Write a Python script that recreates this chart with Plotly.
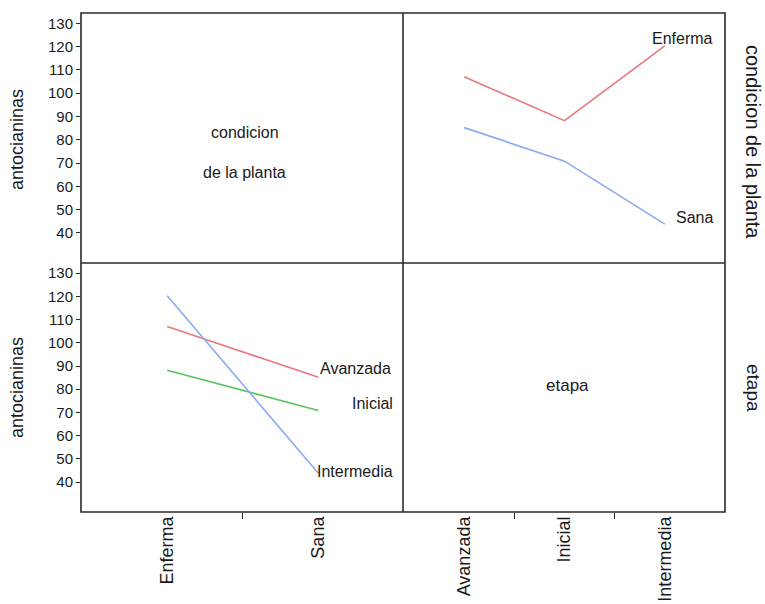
import plotly.graph_objects as go
from plotly.subplots import make_subplots

# Mean anthocyanin content by plant condition and stage
condicion = ["Enferma", "Sana"]
etapa = ["Avanzada", "Inicial", "Intermedia"]
medias = {
    "Enferma": [107.0, 88.2, 120.3],
    "Sana": [85.2, 70.8, 43.8],
}
y_ticks = [40, 50, 60, 70, 80, 90, 100, 110, 120, 130]

W, H = 765, 604
FONT = "Liberation Sans, Arial, sans-serif"
INK = "#1a1a1a"
EDGE = "#2a2a2a"
cond_color = {"Enferma": "#e8767e", "Sana": "#8ea8f2"}
etapa_color = {"Avanzada": "#e8767e", "Inicial": "#5cc25c", "Intermedia": "#8ea8f2"}

fig = make_subplots(rows=2, cols=2, horizontal_spacing=0, vertical_spacing=0)

# diagonal cells only carry a caption; empty traces keep their axes alive
for r, c in ((1, 1), (2, 2)):
    fig.add_trace(go.Scatter(x=[None], y=[None], mode="lines", showlegend=False,
                             hoverinfo="skip"), row=r, col=c)

# top-right: x = etapa, one line per condicion
for c in condicion:
    fig.add_trace(go.Scatter(x=list(range(len(etapa))), y=medias[c], mode="lines",
                             line=dict(color=cond_color[c], width=1.6),
                             showlegend=False, hoverinfo="skip"), row=1, col=2)

# bottom-left: x = condicion, one line per etapa
for j, e in enumerate(etapa):
    vals = [medias[c][j] for c in condicion]
    fig.add_trace(go.Scatter(x=list(range(len(condicion))), y=vals, mode="lines",
                             line=dict(color=etapa_color[e], width=1.6),
                             showlegend=False, hoverinfo="skip"), row=2, col=1)

px = lambda v: v / W
py = lambda v: 1 - v / H

L, M, R = 81, 403, 725      # column edges (px)
T, MID, B = 13, 263, 512    # row edges (px)
xl = [px(L), px(M)]
xr = [px(M), px(R)]
yt = [py(MID), py(T)]
yb = [py(B), py(MID)]
yrange = [27.1, 134.4]

bare = dict(showline=False, showgrid=False, zeroline=False)

# x axes: 1 top-left, 2 top-right, 3 bottom-left, 4 bottom-right
fig.update_layout(
    xaxis=dict(domain=xl, range=[-0.57, 1.56], showticklabels=False, ticks="", **bare),
    xaxis2=dict(domain=xr, range=[-0.61, 2.6], showticklabels=False, ticks="", **bare),
    xaxis3=dict(domain=xl, range=[-0.57, 1.56], tickmode="array",
                tickvals=list(range(len(condicion))), ticktext=condicion,
                ticks="", tickangle=-90,
                tickfont=dict(family=FONT, size=18, color=INK),
                minor=dict(tickmode="array", tickvals=[0.5], ticks="outside",
                           ticklen=6, tickwidth=1.3, tickcolor=EDGE),
                **bare),
    xaxis4=dict(domain=xr, range=[-0.61, 2.6], tickmode="array",
                tickvals=list(range(len(etapa))), ticktext=etapa,
                ticks="", tickangle=-90,
                tickfont=dict(family=FONT, size=18, color=INK),
                minor=dict(tickmode="array", tickvals=[0.5, 1.5], ticks="outside",
                           ticklen=6, tickwidth=1.3, tickcolor=EDGE),
                **bare),
    yaxis=dict(domain=yt, range=yrange, tickmode="array", tickvals=y_ticks,
               ticks="outside", ticklen=4, tickwidth=1.3, tickcolor=EDGE,
               tickfont=dict(family=FONT, size=15, color=INK), **bare),
    yaxis2=dict(domain=yt, range=yrange, showticklabels=False, ticks="", **bare),
    yaxis3=dict(domain=yb, range=yrange, tickmode="array", tickvals=y_ticks,
                ticks="outside", ticklen=4, tickwidth=1.3, tickcolor=EDGE,
                tickfont=dict(family=FONT, size=15, color=INK), **bare),
    yaxis4=dict(domain=yb, range=yrange, showticklabels=False, ticks="", **bare),
)

# matrix frame: outer box plus the two dividers
edge = dict(color=EDGE, width=1.6)
shapes = [
    dict(type="rect", xref="paper", yref="paper", x0=px(L), x1=px(R),
         y0=py(B), y1=py(T), line=edge, layer="above"),
    dict(type="line", xref="paper", yref="paper", x0=px(M), x1=px(M),
         y0=py(B), y1=py(T), line=edge, layer="above"),
    dict(type="line", xref="paper", yref="paper", x0=px(L), x1=px(R),
         y0=py(MID), y1=py(MID), line=edge, layer="above"),
]

ann = []
txt = dict(family=FONT, size=16, color=INK)

# end-of-line labels
for c, (dx, dy) in zip(condicion, [(50, 7), (50, 7)]):
    ann.append(dict(x=len(etapa) - 1, y=medias[c][-1], xref="x2", yref="y2",
                    text=c, showarrow=False, xanchor="right", yanchor="middle",
                    xshift=dx, yshift=dy, font=txt))
for j, (e, (dx, dy)) in enumerate(zip(etapa, [(75, 9), (77, 7), (77, 2)])):
    ann.append(dict(x=len(condicion) - 1, y=medias[condicion[-1]][j], xref="x3", yref="y3",
                    text=e, showarrow=False, xanchor="right", yanchor="middle",
                    xshift=dx, yshift=dy, font=txt))


def caption(x, y, text, size, angle=0):
    ann.append(dict(x=px(x), y=py(y), xref="paper", yref="paper", text=text,
                    showarrow=False, textangle=angle, xanchor="center",
                    yanchor="middle", font=dict(family=FONT, size=size, color=INK)))


# diagonal panel names
caption(245, 133, "condicion", 16)
caption(245, 172, "de la planta", 16)
caption(567, 385, "etapa", 17)

# row titles
caption(17, 140, "antocianinas", 18, -90)
caption(17, 388, "antocianinas", 18, -90)
caption(753, 142, "condicion de la planta", 20, 90)
caption(753, 388, "etapa", 19, 90)

fig.update_layout(
    width=W, height=H, margin=dict(l=0, r=0, t=0, b=0),
    paper_bgcolor="white", plot_bgcolor="white",
    annotations=ann, shapes=shapes, showlegend=False,
)

fig.write_html("out.html", config={"displayModeBar": False})
